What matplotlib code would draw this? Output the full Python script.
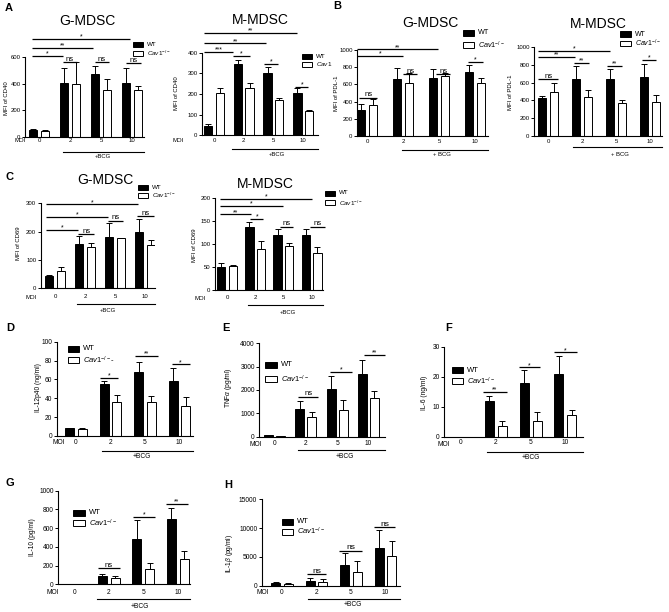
import matplotlib
matplotlib.use('Agg')
import matplotlib.pyplot as plt
import matplotlib.transforms as mtransforms
from matplotlib.patches import Rectangle
import numpy as np

plt.rcParams['font.family'] = ['Liberation Sans', 'DejaVu Sans']
plt.rcParams['mathtext.fontset'] = 'custom'
plt.rcParams['mathtext.rm'] = 'Liberation Sans'
plt.rcParams['mathtext.it'] = 'Liberation Sans:italic'

W, H = 669, 612
moi = ['0', '2', '5', '10']

# A - MFI of CD40
a_g_wt = [50, 405, 475, 405]
a_g_wt_err = [8, 110, 55, 113]
a_g_cav = [48, 400, 355, 355]
a_g_cav_err = [8, 160, 78, 25]
a_m_wt = [45, 345, 303, 203]
a_m_wt_err = [12, 22, 29, 27]
a_m_cav = [203, 227, 170, 120]
a_m_cav_err = [24, 25, 10, 3]

# B - MFI of PDL-1
b_g_wt = [300, 660, 680, 750]
b_g_wt_err = [75, 135, 100, 70]
b_g_cav = [360, 615, 700, 620]
b_g_cav_err = [68, 120, 35, 50]
b_m_wt = [430, 645, 640, 665]
b_m_wt_err = [15, 140, 120, 150]
b_m_cav = [490, 440, 375, 380]
b_m_cav_err = [110, 80, 25, 80]

# C - MFI of CD69
c_g_wt = [45, 155, 180, 200]
c_g_wt_err = [3, 30, 50, 45]
c_g_cav = [61, 147, 177, 153]
c_g_cav_err = [13, 12, 1, 18]
c_m_wt = [50, 138, 120, 119]
c_m_wt_err = [8, 10, 13, 14]
c_m_cav = [53, 89, 96, 81]
c_m_cav_err = [2, 17, 7, 13]

# D - IL-12p40 (ng/ml)
d_wt = [8, 55, 68, 58]
d_wt_err = [1, 3, 10, 14]
d_cav = [7.5, 36, 36, 32]
d_cav_err = [0.7, 8, 6, 9]

# E - TNFa (pg/ml)
e_wt = [60, 1200, 2030, 2700]
e_wt_err = [20, 320, 580, 570]
e_cav = [20, 850, 1160, 1640]
e_cav_err = [0, 210, 400, 330]

# F - IL-6 (ng/ml)
f_wt = [0, 11.9, 18, 21]
f_wt_err = [0, 1.7, 4.2, 6]
f_cav = [0, 3.6, 5.2, 7.4]
f_cav_err = [0, 1.6, 2.9, 1.4]

# G - IL-10 (pg/ml)
g_wt = [0, 87, 480, 695]
g_wt_err = [0, 18, 205, 115]
g_cav = [0, 62, 165, 272]
g_cav_err = [0, 30, 65, 82]

# H - IL-1b (pg/ml)
h_wt = [400, 900, 3650, 6500]
h_wt_err = [250, 500, 1970, 3200]
h_cav = [290, 700, 2430, 5150]
h_cav_err = [170, 400, 1900, 2670]

cav_lab = r'$\mathit{Cav1}^{-/-}$'

fig = plt.figure(figsize=(W / 100, H / 100), dpi=100)


def fy(y):
    return 1 - y / H


def panel(p):
    x0, x1, yt, yb = p['box']
    ax = fig.add_axes([x0 / W, fy(yb), (x1 - x0) / W, (yb - yt) / H])
    c0, s = p['c0'], p['s']
    bw, bo = p.get('bar', (8.5, 5.8))
    w, off = bw / s, bo / s
    x = np.arange(4)
    ax.bar(x - off, p['wt'], w, color='black', edgecolor='black', lw=0.7, zorder=2)
    ax.bar(x + off, p['cav'], w, color='white', edgecolor='black', lw=0.7, zorder=2)
    for xs, v, e in ((x - off, p['wt'], p['wt_err']), (x + off, p['cav'], p['cav_err'])):
        v = np.array(v, float)
        e = np.array(e, float)
        m = e > 0
        ax.errorbar(xs[m], v[m], yerr=[np.zeros(m.sum()), e[m]], fmt='none',
                    ecolor='black', elinewidth=0.7, capsize=2.2, capthick=0.7, zorder=3)
    ax.set_xlim((x0 - c0) / s, (x1 - c0) / s)
    ax.set_ylim(0, p['yticks'][-1])
    for sp in ('top', 'right'):
        ax.spines[sp].set_visible(False)
    for sp in ('left', 'bottom'):
        ax.spines[sp].set_linewidth(0.8)
    ax.set_yticks(p['yticks'])
    fs = p.get('fs', 4.3)
    ax.tick_params(axis='y', length=2.2, width=0.7, pad=1, labelsize=fs)
    ax.set_xticks(x)
    ax.set_xticklabels(moi)
    pad = max(0.3, p['tly'] - yb - 3.3) / 1.389
    ax.tick_params(axis='x', length=0, pad=pad, labelsize=fs)

    for xa, xb, yv, lab in p['sigs']:
        ax.plot([xa, xb], [yv, yv], color='black', lw=0.9, clip_on=False,
                solid_capstyle='butt')
        ax.annotate(lab, xy=((xa + xb) / 2, yv), xytext=(0, 1 if lab == 'ns' else 0.3),
                    textcoords='offset points', ha='center', va='baseline',
                    fontsize=p.get('sfs', 5.5) if lab == 'ns' else 5,
                    annotation_clip=False)

    # +BCG bracket
    bx, by, btx, bty = p['bcg']
    tr = mtransforms.blended_transform_factory(ax.transData, fig.transFigure)
    ax.plot([bx, ax.get_xlim()[1]], [fy(by), fy(by)], color='black', lw=0.8,
            transform=tr, clip_on=False)
    fig.text(btx / W, fy(bty), p.get('bcg_text', '+BCG'), ha='center', va='center', fontsize=fs)

    if 'moi' in p:
        mx, my = p['moi']
        fig.text(mx / W, fy(my), 'MOI', ha='center', va='center', fontsize=fs)
    if 'title' in p:
        tx, ty = p['title_xy']
        fig.text(tx / W, fy(ty), p['title'], ha='center', va='center', fontsize=10)
    lx, ly = p['ylabel_xy']
    fig.text(lx / W, fy(ly), p['ylabel'], rotation=90, ha='center', va='center', fontsize=fs)
    if 'letter' in p:
        ch, cx, cy = p['letter']
        fig.text(cx / W, fy(cy), ch, ha='center', va='center', fontsize=8, fontweight='bold')

    # legend
    gx, gy1, gy2 = p['leg']
    sw, sh = p.get('sq', (10, 5))
    lfs = p.get('lfs', 4.5)
    for yy, fc, lab in ((gy1, 'black', 'WT'), (gy2, 'white', p.get('cav_label', cav_lab))):
        fig.add_artist(Rectangle((gx / W, fy(yy + sh / 2)), sw / W, sh / H,
                                 transform=fig.transFigure, fc=fc, ec='black', lw=0.7))
        fig.text((gx + sw + 4) / W, fy(yy), lab, ha='left', va='center', fontsize=lfs)
    return ax


panels = [
    dict(wt=a_g_wt, wt_err=a_g_wt_err, cav=a_g_cav, cav_err=a_g_cav_err,
         box=(25, 144, 57, 137), c0=39, s=31, yticks=[0, 200, 400, 600], tly=141,
         sigs=[(-0.24, 2.94, 735, '*'), (-0.24, 1.75, 668, '**'), (-0.24, 0.79, 608, '*'),
               (0.78, 1.22, 563, 'ns'), (1.8, 2.26, 563, 'ns'), (2.82, 3.28, 555, 'ns')],
         bcg=(0.77, 152, 103, 157), moi=(20, 141), title='G-MDSC', title_xy=(87, 21),
         ylabel='MFI of CD40', ylabel_xy=(7, 98), letter=('A', 9, 8), leg=(133, 44.5, 53.5)),
    dict(wt=a_m_wt, wt_err=a_m_wt_err, cav=a_m_cav, cav_err=a_m_cav_err,
         box=(202, 318, 52.7, 135.3), c0=214, s=29.7, yticks=[0, 100, 200, 300, 400], tly=141,
         sigs=[(-0.33, 2.78, 494, '**'), (-0.33, 1.75, 445, '**'), (-0.33, 0.65, 403, '***'),
               (0.65, 1.21, 384, '*'), (1.68, 2.17, 344, '*'), (2.73, 3.18, 235, '*')],
         bcg=(0.6, 149, 277, 155), moi=(178, 141), title='M-MDSC', title_xy=(260, 20),
         ylabel='MFI of CD40', ylabel_xy=(177, 93), leg=(302, 56, 64.5),
         cav_label=r'$\mathit{Cav1}$'),
    dict(wt=b_g_wt, wt_err=b_g_wt_err, cav=b_g_cav, cav_err=b_g_cav_err,
         box=(357, 488, 50, 136), c0=367, s=36, yticks=[0, 200, 400, 600, 800, 1000], tly=142,
         sigs=[(-0.27, 1.98, 1008, '**'), (-0.27, 0.99, 930, '*'), (-0.21, 0.27, 446, 'ns'),
               (1.0, 1.4, 721, 'ns'), (1.92, 2.31, 721, 'ns'), (2.81, 3.23, 857, '*')],
         bcg=(0.97, 150, 442, 155), bcg_text='+ BCG', title='G-MDSC', title_xy=(430, 23),
         ylabel='MFI of PDL-1', ylabel_xy=(337, 93), letter=('B', 337, 6),
         leg=(463, 33, 45), sq=(11, 6), lfs=5.2),
    dict(wt=b_m_wt, wt_err=b_m_wt_err, cav=b_m_cav, cav_err=b_m_cav_err,
         box=(534, 662, 47.3, 135.7), c0=548, s=34, yticks=[0, 200, 400, 600, 800, 1000], tly=142,
         sigs=[(-0.28, 1.82, 962, '*'), (-0.28, 0.79, 887, '**'), (-0.28, 0.3, 642, 'ns'),
               (0.75, 1.21, 819, '**'), (1.74, 2.19, 789, '**'), (2.76, 3.17, 857, '*')],
         bcg=(0.74, 147, 620, 155), bcg_text='+ BCG', title='M-MDSC', title_xy=(598, 24),
         ylabel='MFI of PDL-1', ylabel_xy=(510, 92), leg=(620, 34, 43.5), sq=(11, 5.5), lfs=5),
    dict(wt=c_g_wt, wt_err=c_g_wt_err, cav=c_g_cav, cav_err=c_g_cav_err,
         box=(40.7, 155, 203.3, 288.3), c0=55, s=30, yticks=[0, 100, 200, 300], tly=297,
         sigs=[(-0.3, 2.78, 296, '*'), (-0.3, 1.78, 253, '*'), (-0.3, 0.78, 205, '*'),
               (0.78, 1.3, 192, 'ns'), (1.78, 2.28, 238, 'ns'), (2.72, 3.3, 255, 'ns')],
         bcg=(0.73, 304, 108, 310), moi=(31, 297), title='G-MDSC', title_xy=(105, 180),
         ylabel='MFI of CD69', ylabel_xy=(18, 243), letter=('C', 10, 177),
         leg=(138, 187.7, 195.5), sq=(10, 5)),
    dict(wt=c_m_wt, wt_err=c_m_wt_err, cav=c_m_cav, cav_err=c_m_cav_err,
         box=(215, 323, 198.3, 290), c0=227, s=28.2, yticks=[0, 50, 100, 150, 200], tly=298,
         sigs=[(-0.25, 3.0, 199, '*'), (-0.25, 2.0, 183, '*'), (-0.25, 0.85, 165, '**'),
               (0.82, 1.29, 155, '*'), (1.88, 2.35, 138, 'ns'), (2.94, 3.48, 138, 'ns')],
         bcg=(0.74, 305, 288, 313), moi=(200, 298), title='M-MDSC', title_xy=(265, 184),
         ylabel='MFI of CD69', ylabel_xy=(195, 245), leg=(325, 193, 203)),
    dict(wt=d_wt, wt_err=d_wt_err, cav=d_cav, cav_err=d_cav_err,
         box=(56.7, 193, 341.7, 436), c0=76, s=34.5, yticks=[0, 20, 40, 60, 80, 100], tly=442,
         sigs=[(0.7, 1.23, 62, '*'), (1.71, 2.39, 85, '**'), (2.77, 3.3, 76, '*')],
         bcg=(0.75, 450.7, 142, 456.7), moi=(59, 442.5), ylabel='IL-12p40 (ng/ml)',
         ylabel_xy=(38, 388), letter=('D', 10, 328), leg=(68, 349, 360), sq=(11, 6),
         lfs=5.5, fs=4.8, bar=(9, 6.2), cav_label=cav_lab + '-'),
    dict(wt=e_wt, wt_err=e_wt_err, cav=e_cav, cav_err=e_cav_err,
         box=(259.3, 385, 343.3, 436.7), c0=274.7, s=31.2,
         yticks=[0, 1000, 2000, 3000, 4000], tly=443,
         sigs=[(0.76, 1.4, 1714, 'ns'), (1.77, 2.47, 2785, '*'), (2.86, 3.54, 3500, '**')],
         bcg=(0.75, 450, 345, 457), moi=(256, 444.5), ylabel=r'TNF$\alpha$ (pg/ml)',
         ylabel_xy=(228, 388), letter=('E', 226, 328), leg=(265, 365, 379), sq=(12, 6),
         lfs=5.5, fs=4.8, bar=(9, 6.0)),
    dict(wt=f_wt, wt_err=f_wt_err, cav=f_cav, cav_err=f_cav_err,
         box=(444, 582.7, 346.7, 436.7), c0=461, s=34.8, yticks=[0, 10, 20, 30], tly=442,
         sigs=[(0.64, 1.31, 14.8, '**'), (1.67, 2.27, 23.1, '*'), (2.68, 3.32, 28.1, '*')],
         bcg=(0.74, 451.7, 531, 457.7), moi=(444, 444.5), ylabel='IL-6 (ng/ml)',
         ylabel_xy=(425, 393), letter=('F', 449, 328), leg=(452, 370, 381), sq=(11, 6),
         lfs=5.5, fs=4.8, bar=(9, 6.5)),
    dict(wt=g_wt, wt_err=g_wt_err, cav=g_cav, cav_err=g_cav_err,
         box=(58.3, 190, 490.7, 584.3), c0=74.2, s=34.5,
         yticks=[0, 200, 400, 600, 800, 1000], tly=592,
         sigs=[(0.68, 1.33, 171, 'ns'), (1.71, 2.34, 722, '*'), (2.65, 3.31, 858, '**')],
         bcg=(0.65, 599, 140, 606.7), moi=(53, 592), ylabel='IL-10 (pg/ml)',
         ylabel_xy=(33, 537), letter=('G', 10, 483.5), leg=(73, 512.7, 523.3), sq=(12, 6),
         lfs=5.5, fs=4.8, bar=(9, 6.5)),
    dict(wt=h_wt, wt_err=h_wt_err, cav=h_cav, cav_err=h_cav_err,
         box=(261.7, 400, 499.3, 585.7), c0=282, s=34.5,
         yticks=[0, 5000, 10000, 15000], tly=592,
         sigs=[(0.72, 1.28, 2027, 'ns'), (1.66, 2.31, 6080, 'ns'), (2.67, 3.28, 10133, 'ns')],
         bcg=(0.75, 599, 353, 605), moi=(263, 592), ylabel=r'IL-1$\beta$ (pg/ml)',
         ylabel_xy=(230, 553), letter=('H', 228, 485), leg=(282, 521.7, 531.7), sq=(11, 6),
         lfs=5.5, fs=4.8, sfs=6, bar=(9, 6.3)),
]

for p in panels:
    panel(p)

fig.savefig('out.png', dpi=100)
